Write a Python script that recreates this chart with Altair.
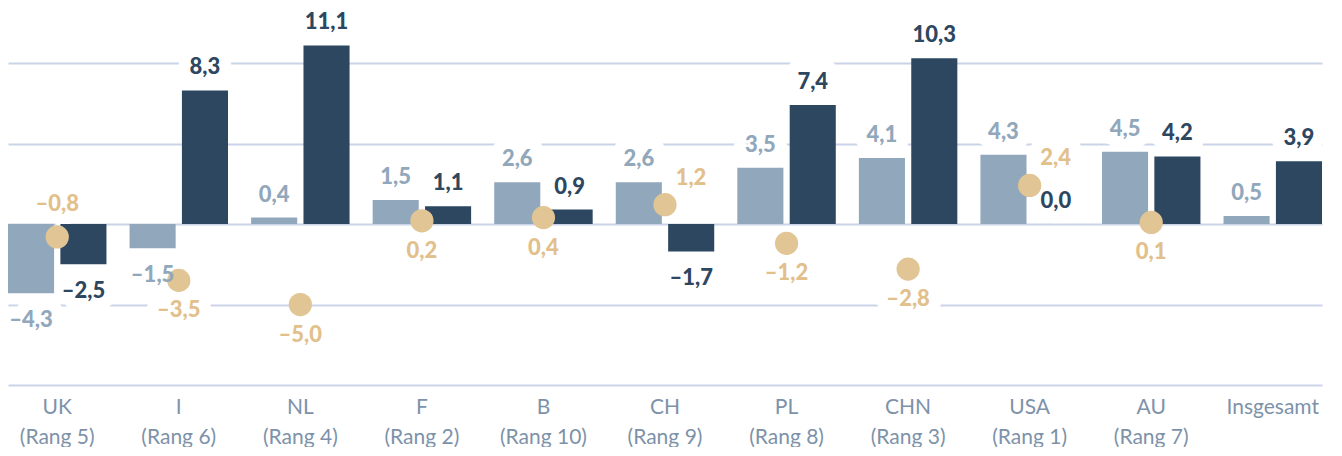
import altair as alt
import pandas as pd

countries = ["UK", "I", "NL", "F", "B", "CH", "PL", "CHN", "USA", "AU", "Insgesamt"]
ranks = ["Rang 5", "Rang 6", "Rang 4", "Rang 2", "Rang 10", "Rang 9", "Rang 8", "Rang 3", "Rang 1", "Rang 7", ""]
series_a = [-4.3, -1.5, 0.4, 1.5, 2.6, 2.6, 3.5, 4.1, 4.3, 4.5, 0.5]
series_b = [-2.5, 8.3, 11.1, 1.1, 0.9, -1.7, 7.4, 10.3, 0.0, 4.2, 3.9]
series_c = [-0.8, -3.5, -5.0, 0.2, 0.4, 1.2, -1.2, -2.8, 2.4, 0.1, None]
gold_side = ["above", "below", "below", "below", "below", "aboveright", "below", "below", "aboveright", "below", None]

LIGHT = "#91a7bb"
DARK = "#2d4760"
GOLD = "#e1c594"
GRID = "#c9d4e8"
FONT = "Lato"


def fmt(v):
    s = f"{abs(v):.1f}".replace(".", ",")
    return ("\u2013" + s) if v < 0 else s


cats = [f"{c}|({r})" if r else c for c, r in zip(countries, ranks)]

rows = []
for cat, a, b in zip(cats, series_a, series_b):
    rows.append({"cat": cat, "series": "a", "value": a, "label": fmt(a)})
    rows.append({"cat": cat, "series": "b", "value": b, "label": fmt(b)})
bars_df = pd.DataFrame(rows)

grows = []
for cat, c, side in zip(cats, series_c, gold_side):
    if c is None:
        continue
    grows.append({"cat": cat, "value": c, "label": fmt(c), "side": side})
gold_df = pd.DataFrame(grows)

x_enc = alt.X(
    "cat:N",
    sort=cats,
    scale=alt.Scale(paddingInner=0.19, paddingOuter=0),
    axis=alt.Axis(
        title=None,
        labelAngle=0,
        ticks=False,
        domain=False,
        grid=False,
        labelExpr="split(datum.label, '|')",
        labelFont=FONT,
        labelFontSize=21,
        labelLineHeight=30,
        labelColor="#7d92a9",
        labelPadding=11,
        labelBaseline="top",
    ),
)
y_enc = alt.Y(
    "value:Q",
    scale=alt.Scale(domain=[-10, 13.3], nice=False, zero=False),
    axis=alt.Axis(
        title=None,
        labels=False,
        ticks=False,
        domain=False,
        values=[-10, -5, 0, 5, 10],
        gridColor=GRID,
        gridWidth=2,
    ),
)
xoff = alt.XOffset("series:N", scale=alt.Scale(paddingInner=0.12, paddingOuter=0))
col = alt.Color("series:N", scale=alt.Scale(domain=["a", "b"], range=[LIGHT, DARK]), legend=None)

base = alt.Chart(bars_df).encode(x=x_enc, xOffset=xoff, y=y_enc)
bars = base.mark_bar().encode(color=col)

txt = dict(font=FONT, fontSize=22, fontWeight=900, baseline="middle")
halo = dict(stroke="white", strokeWidth=24, strokeJoin="round", color="white")

pos_halo = base.transform_filter("datum.value >= 0").mark_text(dy=-23, **txt, **halo).encode(text="label:N")
neg_halo = base.transform_filter("datum.value < 0").mark_text(dy=27, **txt, **halo).encode(text="label:N")
pos_txt = base.transform_filter("datum.value >= 0").mark_text(dy=-23, **txt).encode(text="label:N", color=col)
neg_txt = base.transform_filter("datum.value < 0").mark_text(dy=27, **txt).encode(text="label:N", color=col)

gbase = alt.Chart(gold_df).encode(x=alt.X("cat:N", sort=cats), y=alt.Y("value:Q"))
circles = gbase.mark_circle(size=540, opacity=1, color=GOLD)

g_halo = []
g_txt = []
for side, dx, dy in [("above", 0, -33), ("below", 0, 30), ("aboveright", 26, -27)]:
    f = gbase.transform_filter(f"datum.side == '{side}'")
    g_halo.append(f.mark_text(dx=dx, dy=dy, **txt, **halo).encode(text="label:N"))
    g_txt.append(f.mark_text(dx=dx, dy=dy, color="#e2c08c", **txt).encode(text="label:N"))

chart = alt.layer(
    pos_halo, neg_halo, *g_halo, bars, circles, pos_txt, neg_txt, *g_txt
).properties(
    width=1314, height=375, padding={"left": 0, "top": 2, "right": 10, "bottom": 0}
).configure_view(stroke=None).configure_axis(gridOpacity=1)

chart.save("out.html", embed_options={"renderer": "svg", "actions": False})
